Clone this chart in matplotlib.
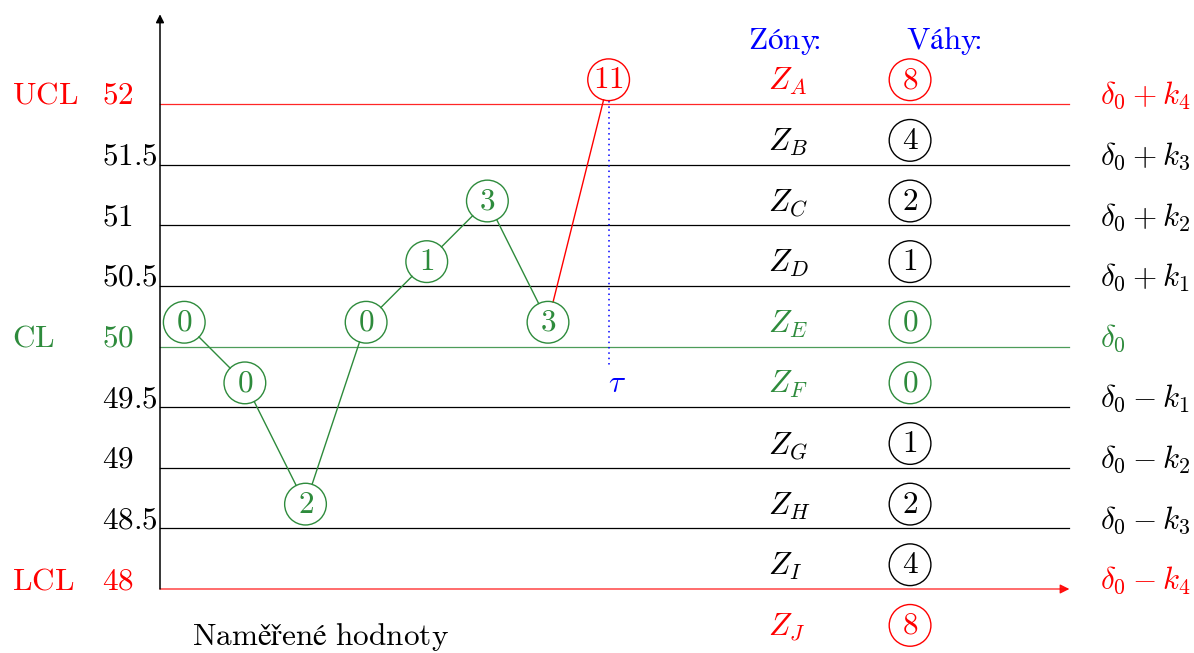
import matplotlib
matplotlib.use("Agg")
import matplotlib.pyplot as plt
from matplotlib.patches import Circle
import numpy as np

plt.rcParams['mathtext.fontset'] = 'cm'
plt.rcParams['font.family'] = 'DejaVu Serif'

# data
levels = [52, 51.5, 51, 50.5, 50, 49.5, 49, 48.5, 48]
level_labels = ['52', '51.5', '51', '50.5', '50', '49.5', '49', '48.5', '48']
right_labels = [r'$\delta_0+k_4$', r'$\delta_0+k_3$', r'$\delta_0+k_2$', r'$\delta_0+k_1$',
                r'$\delta_0$', r'$\delta_0-k_1$', r'$\delta_0-k_2$', r'$\delta_0-k_3$',
                r'$\delta_0-k_4$']
side_labels = {52: 'UCL', 50: 'CL', 48: 'LCL'}

samples = [50.2, 49.7, 48.7, 50.2, 50.7, 51.2, 50.2, 52.2]
scores = ['0', '0', '2', '0', '1', '3', '3', '11']
alarm = 7  # index of point over UCL

zones = ['A', 'B', 'C', 'D', 'E', 'F', 'G', 'H', 'I', 'J']
zone_pos = [52.2, 51.7, 51.2, 50.7, 50.2, 49.7, 49.2, 48.7, 48.2, 47.7]
weights = [8, 4, 2, 1, 0, 0, 1, 2, 4, 8]

RED = '#ff0000'
GREEN = '#2e8b3c'
BLUE = '#0000ff'

def level_color(v):
    if v in (52, 48):
        return RED
    if v == 50:
        return GREEN
    return 'black'

def zone_color(z):
    if z in ('A', 'J'):
        return RED
    if z in ('E', 'F'):
        return GREEN
    return 'black'

# figure: 1 unit = 121.25 px in both directions
scale = 121.25
fig = plt.figure(figsize=(11.94, 6.53), dpi=100)
ax = fig.add_axes([0, 0, 1, 1])
x0 = -160 / scale
ax.set_xlim(x0, x0 + 1194 / scale)
ytop = 50 + 346.5 / scale
ax.set_ylim(ytop - 653 / scale, ytop)
ax.axis('off')

fs = 22.5
x_end = 7.5

# horizontal lines
for v, lab, rl in zip(levels, level_labels, right_labels):
    c = level_color(v)
    if v != 48:
        ax.plot([0, x_end], [v, v], color=c, lw=0.9, alpha=0.85 if c != 'black' else 1)
    ax.text(-0.478, v, '$\\mathrm{' + lab + '}$', color=c, fontsize=fs, ha='left', va='baseline')
    ax.text(7.75, v, rl, color=c, fontsize=fs, ha='left', va='baseline')
    if v in side_labels:
        ax.text(-1.22, v, '$\\mathrm{' + side_labels[v] + '}$', color=c, fontsize=fs,
                ha='left', va='baseline')

# axes arrows
ax.annotate('', xy=(x_end, 48), xytext=(0, 48),
            arrowprops=dict(arrowstyle='-|>', color=RED, lw=0.9, mutation_scale=14,
                            shrinkA=0, shrinkB=0, alpha=0.9))
ax.annotate('', xy=(0, 52.74), xytext=(0, 48),
            arrowprops=dict(arrowstyle='-|>', color='black', lw=1.1, mutation_scale=12,
                            shrinkA=0, shrinkB=0))

# samples
r = 0.172
xs = 0.2 + 0.5 * np.arange(len(samples))
cols = [RED if i == alarm else GREEN for i in range(len(samples))]
for i in range(len(samples) - 1):
    p0 = np.array([xs[i], samples[i]])
    p1 = np.array([xs[i + 1], samples[i + 1]])
    u = (p1 - p0) / np.linalg.norm(p1 - p0)
    a, b = p0 + r * u, p1 - r * u
    ax.plot([a[0], b[0]], [a[1], b[1]], color=cols[i + 1], lw=1.0)
for x, y, s, c in zip(xs, samples, scores, cols):
    ax.add_patch(Circle((x, y), r, fill=False, ec=c, lw=1.0, zorder=3))
    ax.text(x, y, '$\\mathrm{' + s + '}$', color=c, fontsize=fs, ha='center', va='center', zorder=4)

# change point tau
ax.plot([xs[alarm], xs[alarm]], [samples[alarm] - r, 49.85], color=BLUE, lw=1.1,
        linestyle=(0, (1, 2.5)))
ax.text(xs[alarm] + 0.07, 49.82, r'$\tau$', color=BLUE, fontsize=fs, ha='center', va='top')

# zones and weights
ax.text(5.15, 52.454, r'$\mathrm{Zóny}\!\!:$', color=BLUE, fontsize=fs, ha='center', va='baseline')
ax.text(6.46, 52.454, r'$\mathrm{Váhy}\!\!:$', color=BLUE, fontsize=fs, ha='center', va='baseline')
for z, zp, w in zip(zones, zone_pos, weights):
    c = zone_color(z)
    ax.text(5.014, zp - 0.085, '$Z_' + z + '$', color=c, fontsize=fs, ha='left', va='baseline')
    ax.add_patch(Circle((6.186, zp), r, fill=False, ec=c, lw=1.0))
    ax.text(6.186, zp, '$\\mathrm{%d}$' % w, color=c, fontsize=fs, ha='center', va='center')

ax.text(0.264, 47.535, r'$\mathrm{Naměřené\ hodnoty}$', fontsize=fs, ha='left', va='baseline')

fig.savefig('out.png', dpi=100)
